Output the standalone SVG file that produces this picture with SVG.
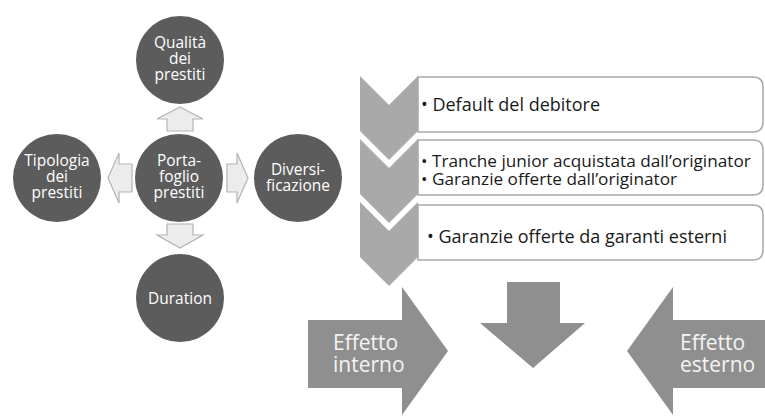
<svg xmlns="http://www.w3.org/2000/svg" width="765" height="416" viewBox="0 0 765 416">
<style>
.circ{fill:#5c5c5c;}
.ct{font-family:"Open Sans","Liberation Sans",sans-serif;font-size:15.5px;fill:#ffffff;text-anchor:middle;}
.sa{fill:#ececec;stroke:#b4b4b4;stroke-width:1.2;}
.chev{fill:#a9a9a9;}
.box{fill:#ffffff;stroke:#a8a8a8;stroke-width:1.5;}
.bt{font-family:"Open Sans","Liberation Sans",sans-serif;font-size:18px;fill:#1a1a1a;}
.bt2{font-family:"Open Sans","Liberation Sans",sans-serif;font-size:17.2px;fill:#1a1a1a;}
.big{fill:#8f8f8f;}
.at{font-family:"Open Sans","Liberation Sans",sans-serif;font-size:21px;fill:#f4f4f4;}
</style>
<rect width="765" height="416" fill="#ffffff"/>

<g id="node-qualita">
<circle class="circ" cx="180" cy="60" r="44"/>
<text class="ct" x="180" y="48"><tspan x="180">Qualità</tspan><tspan x="180" dy="16">dei</tspan><tspan x="180" dy="16">prestiti</tspan></text>
</g>
<g id="node-portafoglio">
<circle class="circ" cx="179" cy="178" r="44"/>
<text class="ct" x="179" y="166"><tspan x="179">Porta-</tspan><tspan x="179" dy="16">foglio</tspan><tspan x="179" dy="16">prestiti</tspan></text>
</g>
<g id="node-tipologia">
<circle class="circ" cx="57" cy="178" r="44"/>
<text class="ct" x="57" y="166"><tspan x="57">Tipologia</tspan><tspan x="57" dy="16">dei</tspan><tspan x="57" dy="16">prestiti</tspan></text>
</g>
<g id="node-diversificazione">
<circle class="circ" cx="298" cy="178" r="44"/>
<text class="ct" x="298" y="175"><tspan x="298">Diversi-</tspan><tspan x="298" dy="16">ficazione</tspan></text>
</g>
<g id="node-duration">
<circle class="circ" cx="180" cy="298" r="44"/>
<text class="ct" x="180" y="304">Duration</text>
</g>

<g id="connectors">
<path class="sa" d="M180,107 L203,119 L193,119 L193,131 L167,131 L167,119 L157,119 Z"/>
<path class="sa" d="M167,224 L193,224 L193,235 L203,235 L180,248 L157,235 L167,235 Z"/>
<path class="sa" d="M108,178 L119,153 L119,164 L132,164 L132,192 L119,192 L119,203 Z"/>
<path class="sa" d="M227,164 L237,164 L237,153 L248,178 L237,203 L237,192 L227,192 Z"/>
</g>

<g id="chevron-list">
<g id="step-1">
<path class="chev" d="M360,76 L389,105 L418,76 L418,131 L389,160 L360,131 Z"/>
<path class="box" d="M418,77 H753 Q763,77 763,87 V122 Q763,132 753,132 H418 Z"/>
<text class="bt" x="421" y="111">• Default del debitore</text>
</g>
<g id="step-2">
<path class="chev" d="M360,139 L389,168 L418,139 L418,194 L389,223 L360,194 Z"/>
<path class="box" d="M418,140 H753 Q763,140 763,150 V185 Q763,195 753,195 H418 Z"/>
<text class="bt2" x="421" y="167"><tspan x="421">• Tranche junior acquistata dall’originator</tspan><tspan x="421" dy="18">• Garanzie offerte dall’originator</tspan></text>
</g>
<g id="step-3">
<path class="chev" d="M360,202 L389,231 L418,202 L418,257 L389,286 L360,257 Z"/>
<path class="box" d="M418,205 H753 Q763,205 763,215 V250 Q763,260 753,260 H418 Z"/>
<text class="bt" x="427" y="243">• Garanzie offerte da garanti esterni</text>
</g>
</g>

<g id="effetto-interno">
<path class="big" d="M308,320 L402,320 L402,287 L448,351 L402,415 L402,388 L308,388 Z"/>
<text class="at" x="333" y="350"><tspan x="333">Effetto</tspan><tspan x="333" dy="22">interno</tspan></text>
</g>
<g id="arrow-down">
<path class="big" d="M507,282 L560,282 L560,323 L585,323 L533,368 L480,323 L507,323 Z"/>
</g>
<g id="effetto-esterno">
<path class="big" d="M765,320 L673,320 L673,287 L627,351 L673,415 L673,388 L765,388 Z"/>
<text class="at" x="680" y="350"><tspan x="680">Effetto</tspan><tspan x="680" dy="22">esterno</tspan></text>
</g>
</svg>
